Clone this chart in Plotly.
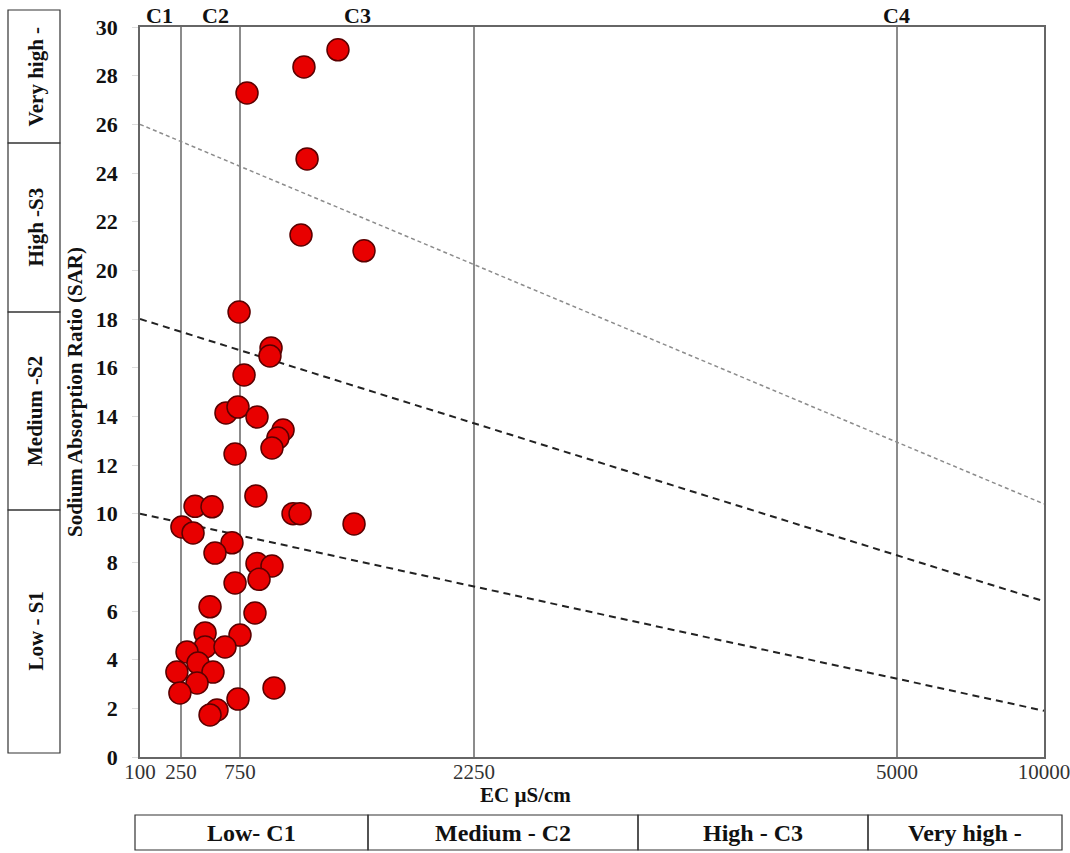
import numpy as np
import plotly.graph_objects as go

# ---------------- data ----------------
ec_values = [1378, 1160, 795, 1180, 1141, 1545,
             742, 949, 942, 776, 631, 733, 859, 1026, 993, 955, 708, 852,
             369, 513, 1090, 1135, 1481, 258, 352, 682, 538,
             859, 955, 872, 708, 496, 846, 454, 750, 454, 623,
             301, 394, 521, 235, 386, 246, 968, 733, 555, 496]
sar_values = [29.06, 28.36, 27.29, 24.58, 21.45, 20.80,
              18.29, 16.81, 16.48, 15.70, 14.14, 14.38, 13.97, 13.44, 13.11, 12.70, 12.45, 10.73,
              10.30, 10.28, 10.00, 10.00, 9.58, 9.45, 9.21, 8.80, 8.38,
              7.95, 7.85, 7.30, 7.15, 6.17, 5.92, 5.10, 5.01, 4.52, 4.52,
              4.32, 3.86, 3.49, 3.49, 3.04, 2.63, 2.84, 2.38, 1.93, 1.73]

ec_ticks = [100, 250, 750, 2250, 5000, 10000]
ec_tick_labels = ["100", "250", "750", "2250", "5000", "10000"]
class_bounds = [250, 750, 2250, 5000]
class_labels = ["C1", "C2", "C3", "C4"]

# hazard boundary lines: SAR at EC=100 and EC=10000
line_ec = [100, 10000]
line_s1_s2 = [10.0, 1.9]
line_s2_s3 = [18.0, 6.4]
line_s3_s4 = [26.0, 10.4]

sar_classes = ["Very high -", "High -S3", "Medium -S2", "Low - S1"]
ec_classes = ["Low- C1", "Medium - C2", "High - C3", "Very high -"]

# ---------------- custom (piecewise) EC scale ----------------
_scale_units = [0, 41, 100, 334, 757, 904]
def to_axis(ec):
    return np.interp(np.asarray(ec, dtype=float), ec_ticks, _scale_units)

# figure geometry (pixels)
W, H = 1070, 853
L, R, T, B = 140, 1044, 27, 757
def px(x):
    return (x - L) / (R - L)
def py(y):
    return (B - y) / (B - T)

SERIF = "Liberation Serif, Times New Roman, serif"

fig = go.Figure()

# vertical class boundaries
for b in class_bounds:
    fig.add_trace(go.Scatter(x=to_axis([b, b]), y=[0, 30], mode="lines",
                             line=dict(color="#666666", width=1.5),
                             hoverinfo="skip", showlegend=False))

# dashed boundary lines
fig.add_trace(go.Scatter(x=to_axis(line_ec), y=line_s3_s4, mode="lines",
                         line=dict(color="#8c8c8c", width=1.5, dash="4px,3px"),
                         hoverinfo="skip", showlegend=False))
for ys in (line_s2_s3, line_s1_s2):
    fig.add_trace(go.Scatter(x=to_axis(line_ec), y=ys, mode="lines",
                             line=dict(color="#222222", width=2, dash="7px,5px"),
                             hoverinfo="skip", showlegend=False))

# samples
fig.add_trace(go.Scatter(x=to_axis(ec_values), y=sar_values, mode="markers",
                         marker=dict(size=22, color="#e80000",
                                     line=dict(color="#5a0000", width=1.5)),
                         showlegend=False))

annotations = []
def note(xp, yp, text, size, angle=0):
    annotations.append(dict(x=px(xp), y=py(yp), xref="paper", yref="paper",
                            xanchor="center", yanchor="middle",
                            text=text, textangle=angle, showarrow=False,
                            font=dict(family=SERIF, size=size, color="#111")))

# class labels above the plot
c_pos = [159, 215, 357, 896]
for lab, xp in zip(class_labels, c_pos):
    note(xp, 15, "<b>%s</b>" % lab, 22)

# axis titles
note(75, 392, "<b>Sodium Absorption Ratio (SAR)</b>", 21, -90)
note(525, 795, "<b>EC µS/cm</b>", 21)

shapes = []
# left SAR class boxes
lb = [10, 143, 312, 510, 753]
for i, lab in enumerate(sar_classes):
    shapes.append(dict(type="rect", xref="paper", yref="paper",
                       x0=px(8), x1=px(60), y0=py(lb[i + 1]), y1=py(lb[i]),
                       line=dict(color="#333333", width=1.2)))
    note(35, (lb[i] + lb[i + 1]) / 2, "<b>%s</b>" % lab, 21, -90)

# bottom EC class boxes
bb = [135, 368, 638, 868, 1062]
for i, lab in enumerate(ec_classes):
    shapes.append(dict(type="rect", xref="paper", yref="paper",
                       x0=px(bb[i]), x1=px(bb[i + 1]), y0=py(850), y1=py(815),
                       line=dict(color="#333333", width=1.2)))
    note((bb[i] + bb[i + 1]) / 2, 833, "<b>%s</b>" % lab, 24)

fig.update_layout(
    width=W, height=H,
    margin=dict(l=L, r=W - R, t=T, b=H - B, autoexpand=False),
    paper_bgcolor="white", plot_bgcolor="white",
    shapes=shapes, annotations=annotations,
    xaxis=dict(range=[0, 904], tickvals=to_axis(ec_ticks), ticktext=ec_tick_labels,
               showgrid=False, zeroline=False, showline=True, mirror=True,
               linecolor="#666666", linewidth=1.5, ticks="",
               ticklabeloverflow="allow", automargin=False, ticklabelstandoff=-5,
               tickfont=dict(family=SERIF, size=21, color="#333")),
    yaxis=dict(range=[0, 30], tickvals=list(range(0, 31, 2)),
               ticktext=["<b>%d</b>" % v for v in range(0, 31, 2)],
               showgrid=False, zeroline=False, showline=True, mirror=True,
               linecolor="#666666", linewidth=1.5, ticks="outside", ticklen=6,
               tickcolor="#dddddd", ticklabelstandoff=10, automargin=False,
               tickfont=dict(family=SERIF, size=22, color="#111")),
)

fig.write_html("out.html", config={"displayModeBar": False},
               post_script="document.body.style.margin='0px';")
